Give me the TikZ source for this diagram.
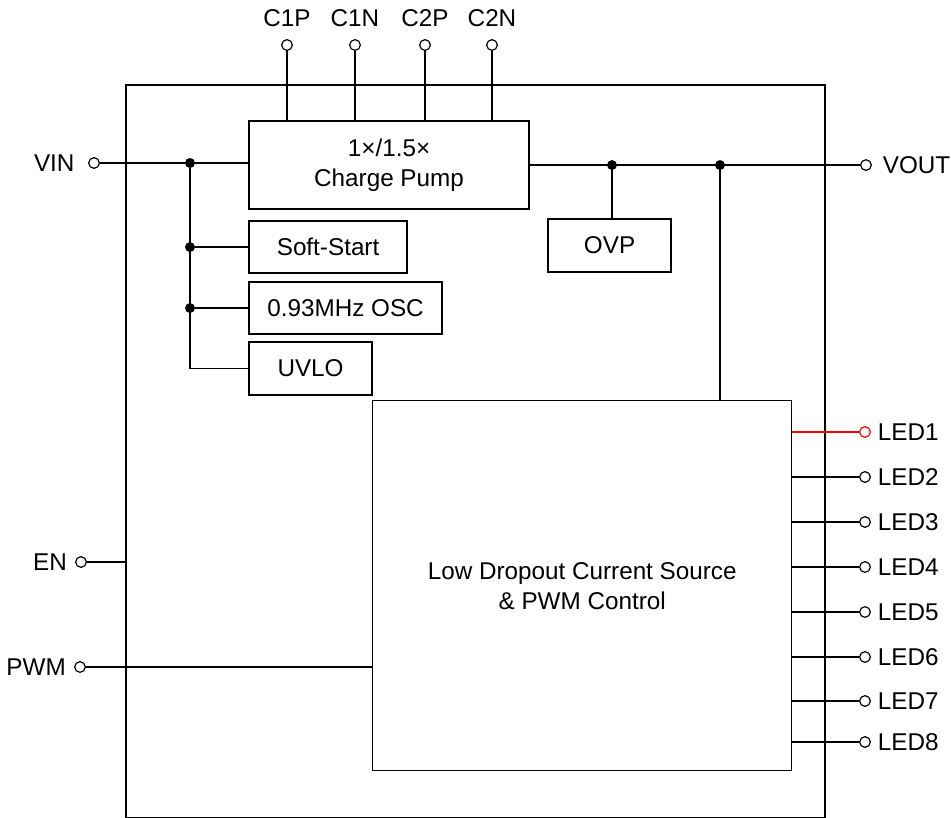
\documentclass[tikz,border=0pt]{standalone}
\usepackage{fontspec}
\setmainfont{Liberation Sans}
\usetikzlibrary{positioning, fit}

\begin{document}
\begin{tikzpicture}[
  x=0.75pt, y=-0.75pt,
  font=\fontsize{18.2}{22.5}\selectfont,
  block/.style={draw, line width=1.6pt, inner sep=0pt, align=center, anchor=north west},
  wire/.style={line width=1.1pt},
  pin/.style={circle, draw, fill=white, line width=0.9pt, inner sep=0pt, minimum size=8pt},
  dot/.style={circle, fill, inner sep=0pt, minimum size=7.5pt},
  every label/.style={inner sep=0pt, label distance=6pt}
]
\useasboundingbox (0,0) rectangle (951,818);

% chip outline
\node[draw, line width=1.7pt, inner sep=0pt, fit={(126,85)(825,818)}] (chip) {};

% internal blocks
\node[block, minimum width=210pt, minimum height=66pt] (pump) at (248,120) {1×/1.5×\\Charge Pump};
\node[block, minimum width=118.5pt, minimum height=39pt] (soft) at (248,220) {Soft-Start};
\node[block, minimum width=144.75pt, minimum height=39pt] (osc) at (248,281) {0.93MHz OSC};
\node[block, minimum width=92.25pt, minimum height=39.75pt] (uvlo) at (248,341) {UVLO};
\node[block, minimum width=92.25pt, minimum height=39.75pt] (ovp) at (547,218) {OVP};
\node[block, line width=1.1pt, minimum width=314.25pt, minimum height=277.5pt] (ldo) at (372,400)
  {Low Dropout Current Source\\\& PWM Control};

% top pins
\foreach \nm/\x in {C1P/287, C1N/355, C2P/425, C2N/492} {
  \node[pin, label={[label distance=9pt]above:\nm}] (\nm) at (\x,45) {};
  \draw[wire] (\nm) -- (\nm |- pump.north);
}

% input side
\node[pin, label={[label distance=10pt]left:VIN}] (vin) at (94,163) {};
\node[dot] (jvin) at (190,163) {};
\draw[wire] (vin) -- (vin -| pump.west);
\node[dot] (jsoft) at (jvin |- soft.west) {};
\node[dot] (josc) at (jvin |- osc.west) {};
\draw[wire] (jvin) |- (uvlo.west);
\draw[wire] (jsoft) -- (soft.west);
\draw[wire] (josc) -- (osc.west);

\node[pin, label=left:EN] (en) at (81,562) {};
\draw[wire] (en) -- (en -| chip.west);
\node[pin, label=left:PWM] (pwm) at (80,667) {};
\draw[wire] (pwm) -- (pwm -| ldo.west);

% output side
\coordinate (xovp) at (612,0);
\coordinate (xldo) at (720,0);
\coordinate (xout) at (866,0);
\node[pin, label={[label distance=8pt]right:VOUT}] (vout) at (pump.east -| xout) {};
\node[dot] (jovp) at (pump.east -| xovp) {};
\node[dot] (jldo) at (pump.east -| xldo) {};
\draw[wire] (pump.east) -- (vout);
\draw[wire] (jovp) -- (jovp |- ovp.north);
\draw[wire] (jldo) -- (jldo |- ldo.north);

\foreach \i/\y/\c in {1/432/red, 2/477/black, 3/522/black, 4/567/black,
                      5/612/black, 6/657/black, 7/701/black, 8/742/black} {
  \node[pin, draw=\c, label={[label distance=5pt]right:LED\i}] (led\i) at (865,\y) {};
  \draw[wire, \c] (led\i) -- (led\i -| ldo.east);
}

\end{tikzpicture}
\end{document}
